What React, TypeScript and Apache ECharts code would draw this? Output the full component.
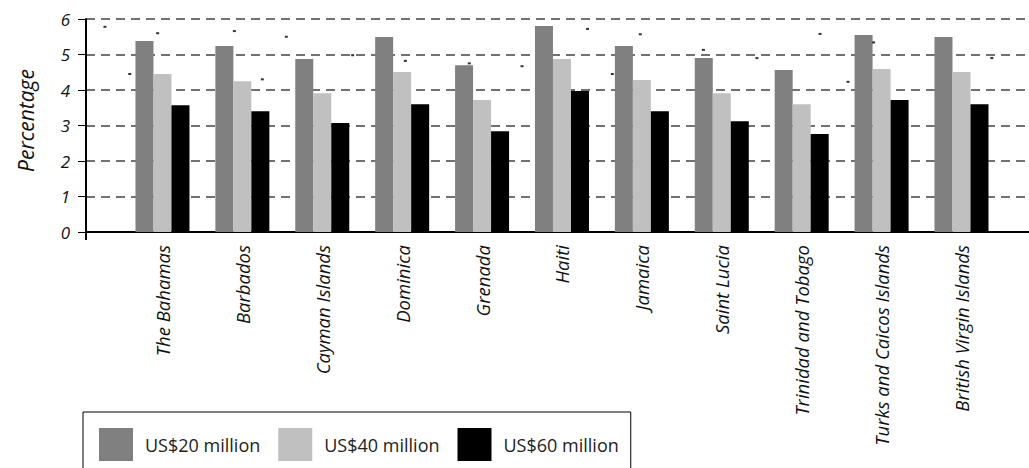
import React, { useEffect, useRef } from "react";
import * as echarts from "echarts";

// Countries along the horizontal axis
const countries = [
  "The Bahamas",
  "Barbados",
  "Cayman Islands",
  "Dominica",
  "Grenada",
  "Haiti",
  "Jamaica",
  "Saint Lucia",
  "Trinidad and Tobago",
  "Turks and Caicos Islands",
  "British Virgin Islands",
];

const seriesNames = ["US$20 million", "US$40 million", "US$60 million"];

// Percentage values per scenario
const us20 = [5.38, 5.24, 4.87, 5.49, 4.7, 5.8, 5.24, 4.9, 4.56, 5.55, 5.49];
const us40 = [4.45, 4.25, 3.91, 4.51, 3.72, 4.87, 4.28, 3.91, 3.6, 4.59, 4.51];
const us60 = [3.57, 3.4, 3.07, 3.6, 2.84, 3.97, 3.4, 3.12, 2.76, 3.72, 3.6];

// Small point markers scattered over the plot (x in country-index units)
const markerX = [-0.72, -0.41, -0.06, 0.9, 1.25, 1.55, 2.38, 3.04, 3.84, 4.5, 5.32, 5.63, 5.98, 6.77, 7.44, 8.23, 8.58, 8.9, 10.38];
const markerY = [5.78, 4.45, 5.6, 5.66, 4.3, 5.5, 4.98, 4.82, 4.75, 4.67, 5.72, 4.45, 5.57, 5.13, 4.9, 5.58, 4.23, 5.34, 4.9];

const yTicks = [0, 1, 2, 3, 4, 5, 6];

// Horizontal extent in country-index units
const X_MIN = -0.957;
const X_MAX = 10.845;

const colors = ["#808080", "#c0c0c0", "#000000"];
const FONT = "'Open Sans', 'Noto Sans', sans-serif";

export default function App() {
  const ref = useRef<HTMLDivElement>(null);

  useEffect(() => {
    if (!ref.current) return;
    const chart = echarts.init(ref.current, null, { renderer: "svg" });

    const values = [us20, us40, us60];
    const barSeries = values.map((vals, s) => ({
      name: seriesNames[s],
      type: "bar",
      data: countries.map((_, i) => [i, vals[i]]),
      barWidth: 18,
      barGap: "0%",
      itemStyle: { color: colors[s] },
    }));

    chart.setOption({
      animation: false,
      backgroundColor: "#ffffff",
      textStyle: { fontFamily: FONT },
      grid: { left: 86, right: 0, top: 19, bottom: 236 },
      legend: {
        data: seriesNames,
        left: 83,
        top: 412,
        padding: [16, 12, 16, 16],
        itemWidth: 34,
        itemHeight: 33,
        itemGap: 18,
        icon: "rect",
        borderColor: "#000",
        borderWidth: 1,
        textStyle: { fontFamily: FONT, fontSize: 18, color: "#222", padding: [0, 0, 0, 7] },
      },
      xAxis: {
        type: "value",
        min: X_MIN,
        max: X_MAX,
        splitLine: { show: false },
        axisLine: { show: true, onZero: false, lineStyle: { color: "#000", width: 2 } },
        axisTick: {
          show: true,
          customValues: [X_MIN],
          length: 8,
          lineStyle: { color: "#000", width: 2 },
        },
        axisLabel: {
          customValues: countries.map((_, i) => i),
          formatter: (v: number) => countries[Math.round(v)] ?? "",
          rotate: 90,
          margin: 13,
          fontStyle: "italic",
          fontSize: 18.5,
          color: "#111",
          fontFamily: FONT,
        },
      },
      yAxis: {
        type: "value",
        min: 0,
        max: 6,
        interval: 1,
        name: "Percentage",
        nameLocation: "middle",
        nameGap: 50,
        nameTextStyle: { fontStyle: "italic", fontSize: 21, color: "#111", fontFamily: FONT, padding: [0, 0, 0, 10] },
        axisLine: { show: true, onZero: false, lineStyle: { color: "#000", width: 2 } },
        axisTick: { show: true, length: 8, lineStyle: { color: "#000", width: 1 } },
        axisLabel: {
          margin: 16,
          fontStyle: "italic",
          fontSize: 17,
          color: "#111",
          fontFamily: FONT,
          customValues: yTicks,
        },
        splitLine: {
          show: true,
          lineStyle: { color: "#444", width: 1.5, type: [9, 6] },
        },
      },
      series: [
        ...barSeries,
        {
          name: "markers",
          type: "scatter",
          data: markerX.map((x, i) => [x, markerY[i]]),
          symbol: "rect",
          symbolSize: [3, 2],
          itemStyle: { color: "#000" },
          silent: true,
          z: 5,
        },
      ],
    });

    return () => chart.dispose();
  }, []);

  return (
    <div
      ref={ref}
      style={{ position: "fixed", left: 0, top: 0, width: 1029, height: 468, background: "#fff" }}
    />
  );
}
